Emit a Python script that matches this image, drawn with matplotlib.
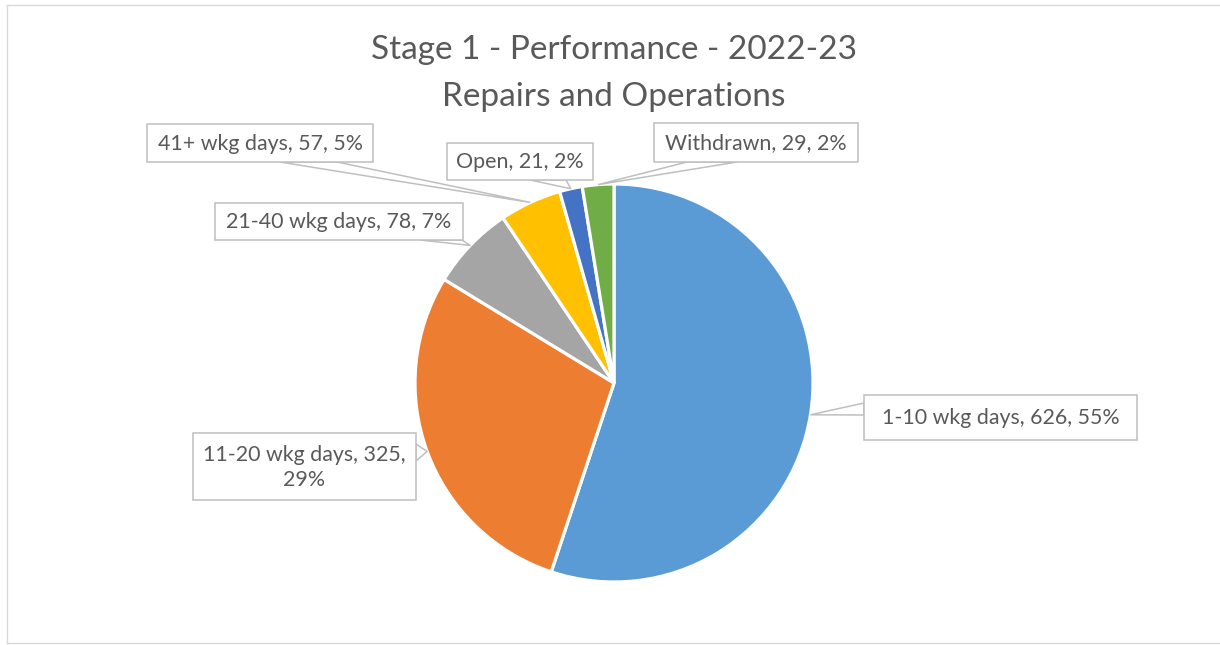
import matplotlib
matplotlib.use('Agg')
import matplotlib.pyplot as plt
import numpy as np
from matplotlib.patches import Rectangle, Polygon
from matplotlib.lines import Line2D

# ---- data ----
categories = ['1-10 wkg days', '11-20 wkg days', '21-40 wkg days', '41+ wkg days', 'Open', 'Withdrawn']
values = [626, 325, 78, 57, 21, 29]
percent_labels = ['55%', '29%', '7%', '5%', '2%', '2%']
colors = ['#5B9BD5', '#ED7D31', '#A5A5A5', '#FFC000', '#4472C4', '#70AD47']
title_lines = ['Stage 1 - Performance - 2022-23', 'Repairs and Operations']

# ---- layout (pixel coordinates, y downward) ----
W, H = 1220, 645
cx, cy, R = 614, 383, 199
# label boxes: (x0, y0, x1, y1)
boxes = [
    (864, 395, 1137, 440),
    (193, 433, 416, 500),
    (215, 203, 463, 240),
    (147, 124, 373, 162),
    (447, 143, 593, 180),
    (654, 123, 858, 162),
]
# leader base points on the box edge
bases = [
    ((864, 403), (864, 415)),
    ((416, 444), (416, 461)),
    ((420, 240), (462, 240)),
    ((280, 162), (337, 162)),
    ((530, 180), (566, 180)),
    ((687, 162), (737, 162)),
]
label_texts = [f"{c}, {v}, {p}" if i != 1 else f"{c}, {v},\n{p}"
               for i, (c, v, p) in enumerate(zip(categories, values, percent_labels))]

FONT = ['Lato', 'DejaVu Sans']
TXT = '#595959'
EDGE = '#BFBFBF'

fig = plt.figure(figsize=(W / 100, H / 100), dpi=100)
ax = fig.add_axes([0, 0, 1, 1])

ax.pie(values, colors=colors, center=(cx, cy), radius=R,
       startangle=-90, counterclock=True,
       wedgeprops=dict(edgecolor='white', linewidth=2.3))
ax.set_xlim(0, W)
ax.set_ylim(H, 0)
ax.set_aspect('equal')
ax.axis('off')

# outer chart border (top, left, bottom only; right edge is off-canvas)
for xs, ys in [((7, W + 5), (5, 5)), ((7, 7), (5, 643)), ((7, W + 5), (643, 643))]:
    ax.add_line(Line2D(xs, ys, color='#D9D9D9', linewidth=1.0, zorder=0, clip_on=False))

# leader tips from pie geometry
total = float(sum(values))
cum = np.cumsum([0] + values) / total
for i in range(len(values)):
    mid = (cum[i] + cum[i + 1]) / 2
    th = np.deg2rad(-90 + 360 * mid)
    tip = (cx + R * np.cos(th), cy + R * np.sin(th))
    b1, b2 = bases[i]
    ax.add_patch(Polygon([b1, tip, b2], closed=True, facecolor='white',
                         edgecolor=EDGE, linewidth=1.1, zorder=5))
    x0, y0, x1, y1 = boxes[i]
    ax.add_patch(Rectangle((x0, y0), x1 - x0, y1 - y0, facecolor='white',
                           edgecolor=EDGE, linewidth=1.1, zorder=6))
    ax.text((x0 + x1) / 2, (y0 + y1) / 2 + 1, label_texts[i], ha='center', va='center',
            fontsize=15.4, color=TXT, family=FONT, zorder=7, linespacing=1.3)

ax.text(614, 50, title_lines[0], ha='center', va='center', fontsize=24, color=TXT, family=FONT)
ax.text(614, 97, title_lines[1], ha='center', va='center', fontsize=24, color=TXT, family=FONT)

fig.savefig('out.png', dpi=100, facecolor='white')
